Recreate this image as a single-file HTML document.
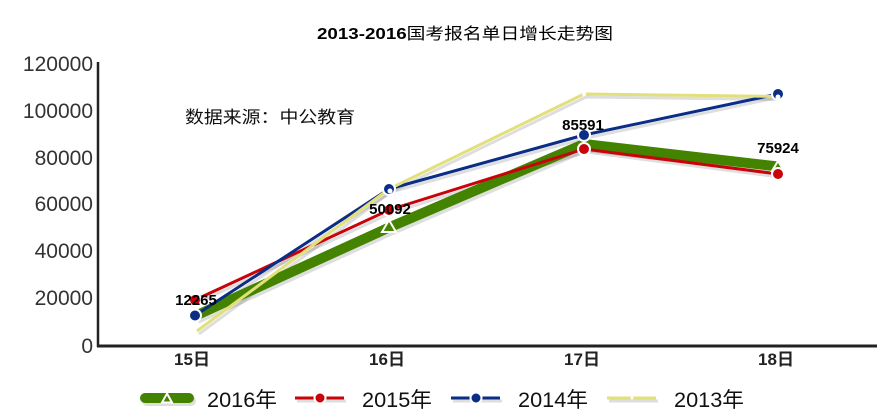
<!DOCTYPE html>
<html><head><meta charset="utf-8"><style>
html,body{margin:0;padding:0;background:#fff;}
svg{display:block;}
</style></head><body>
<svg width="893" height="417" viewBox="0 0 893 417" xmlns="http://www.w3.org/2000/svg">
<rect width="893" height="417" fill="#fff"/>
<!-- title -->
<text x="465" y="39" text-anchor="middle" font-family="'Liberation Sans','Noto Sans CJK SC',sans-serif" font-size="16" font-weight="bold" fill="#000" textLength="296" lengthAdjust="spacingAndGlyphs">2013-2016<tspan font-weight="normal">国考报名单日增长走势图</tspan></text>
<!-- source -->
<text x="185" y="123" font-family="'Liberation Sans','Noto Sans CJK SC',sans-serif" font-size="17" fill="#111" textLength="170" lengthAdjust="spacingAndGlyphs">数据来源：中公教育</text>
<!-- y labels -->
<g font-family="'Liberation Sans',sans-serif" font-size="21" fill="#333" text-anchor="end">
<text x="93" y="71">120000</text>
<text x="93" y="118">100000</text>
<text x="93" y="165">80000</text>
<text x="93" y="211">60000</text>
<text x="93" y="258">40000</text>
<text x="93" y="305">20000</text>
<text x="93" y="353">0</text>
</g>
<!-- x labels -->
<g font-family="'Liberation Sans','Noto Sans CJK SC',sans-serif" font-size="17" font-weight="bold" fill="#222" text-anchor="middle">
<text x="192" y="365" textLength="36" lengthAdjust="spacingAndGlyphs">15日</text>
<text x="387" y="365" textLength="36" lengthAdjust="spacingAndGlyphs">16日</text>
<text x="582" y="365" textLength="36" lengthAdjust="spacingAndGlyphs">17日</text>
<text x="776" y="365" textLength="36" lengthAdjust="spacingAndGlyphs">18日</text>
</g>
<!-- shadows -->
<g fill="none" stroke="#000" stroke-opacity="0.13" stroke-linejoin="round" transform="translate(2,3)">
<polyline points="195,316 389,227.5 584,144 778,166.5" stroke-width="10"/>
<polyline points="195,300 389,210 584,149 778,174" stroke-width="3"/>
<polyline points="195,315.5 389,189 584,135 778,94" stroke-width="3"/>
<polyline points="197,331 389,189 584,94 778,96.5" stroke-width="3"/>
</g>
<!-- series -->
<polyline points="195,316 389,227.5 584,144 778,166.5" fill="none" stroke="#438300" stroke-width="10" stroke-linejoin="round"/>
<polyline points="195,300 389,210 584,149 778,174" fill="none" stroke="#c8040a" stroke-width="3" stroke-linejoin="round"/>
<polyline points="195,315.5 389,189 584,135 778,94" fill="none" stroke="#0a2d86" stroke-width="3" stroke-linejoin="round"/>
<polyline points="197,331 389,189 584,94 778,96.5" fill="none" stroke="#e2e07a" stroke-width="3" stroke-linejoin="round"/>
<!-- markers -->
<g stroke="#fff" stroke-width="2">
<polygon points="389,220 396,232 382,232" fill="#438300"/>
<polygon points="778,161 784,171 772,171" fill="#438300"/>
<circle cx="195" cy="300" r="6" fill="#c8040a"/>
<circle cx="389" cy="210" r="6" fill="#c8040a"/>
<circle cx="584" cy="149" r="6" fill="#c8040a"/>
<circle cx="778" cy="174" r="6" fill="#c8040a"/>
<circle cx="195" cy="315.5" r="6" fill="#0a2d86"/>
<circle cx="389" cy="189" r="6" fill="#0a2d86"/>
<circle cx="584" cy="135" r="6" fill="#0a2d86"/>
<circle cx="778" cy="94" r="6" fill="#0a2d86"/>
</g>
<g fill="#fff">
<circle cx="390" cy="191" r="2.5"/>
<circle cx="584" cy="94" r="2"/>
<circle cx="778" cy="97" r="2.5"/>
</g>
<!-- axes -->
<line x1="98" y1="62" x2="98" y2="347" stroke="#222" stroke-width="2.5"/>
<line x1="97" y1="346" x2="877" y2="346" stroke="#222" stroke-width="3"/>
<!-- data labels -->
<g font-family="'Liberation Sans',sans-serif" font-size="15" font-weight="bold" fill="#000" text-anchor="middle">
<text x="196" y="305">12265</text>
<text x="390" y="214">50092</text>
<text x="583" y="130">85591</text>
<text x="778" y="153">75924</text>
</g>
<!-- legend -->
<g>
<rect x="142" y="396" width="54" height="10" rx="5" fill="#000" fill-opacity="0.13"/>
<rect x="140" y="393" width="54" height="10" rx="5" fill="#438300"/>
<polygon points="167,393.5 172,402.5 162,402.5" fill="#438300" stroke="#fff" stroke-width="2"/>
<line x1="297" y1="401" x2="346" y2="401" stroke="#000" stroke-opacity="0.13" stroke-width="3"/>
<line x1="295" y1="398" x2="344" y2="398" stroke="#c8040a" stroke-width="3"/>
<circle cx="320" cy="398" r="5.5" fill="#c8040a" stroke="#fff" stroke-width="2"/>
<line x1="453" y1="401" x2="502" y2="401" stroke="#000" stroke-opacity="0.13" stroke-width="3"/>
<line x1="451" y1="398" x2="500" y2="398" stroke="#0a2d86" stroke-width="3"/>
<circle cx="476" cy="398" r="5.5" fill="#0a2d86" stroke="#fff" stroke-width="2"/>
<line x1="609" y1="401" x2="658" y2="401" stroke="#000" stroke-opacity="0.13" stroke-width="3"/>
<line x1="607" y1="398" x2="656" y2="398" stroke="#e2e07a" stroke-width="3"/>
<circle cx="632" cy="398" r="1.5" fill="#fff"/>
</g>
<g font-family="'Liberation Sans','Noto Sans CJK SC',sans-serif" font-size="21" fill="#111">
<text x="207" y="407" textLength="70" lengthAdjust="spacingAndGlyphs">2016年</text>
<text x="362" y="407" textLength="70" lengthAdjust="spacingAndGlyphs">2015年</text>
<text x="518" y="407" textLength="70" lengthAdjust="spacingAndGlyphs">2014年</text>
<text x="674" y="407" textLength="70" lengthAdjust="spacingAndGlyphs">2013年</text>
</g>
</svg>
</body></html>
